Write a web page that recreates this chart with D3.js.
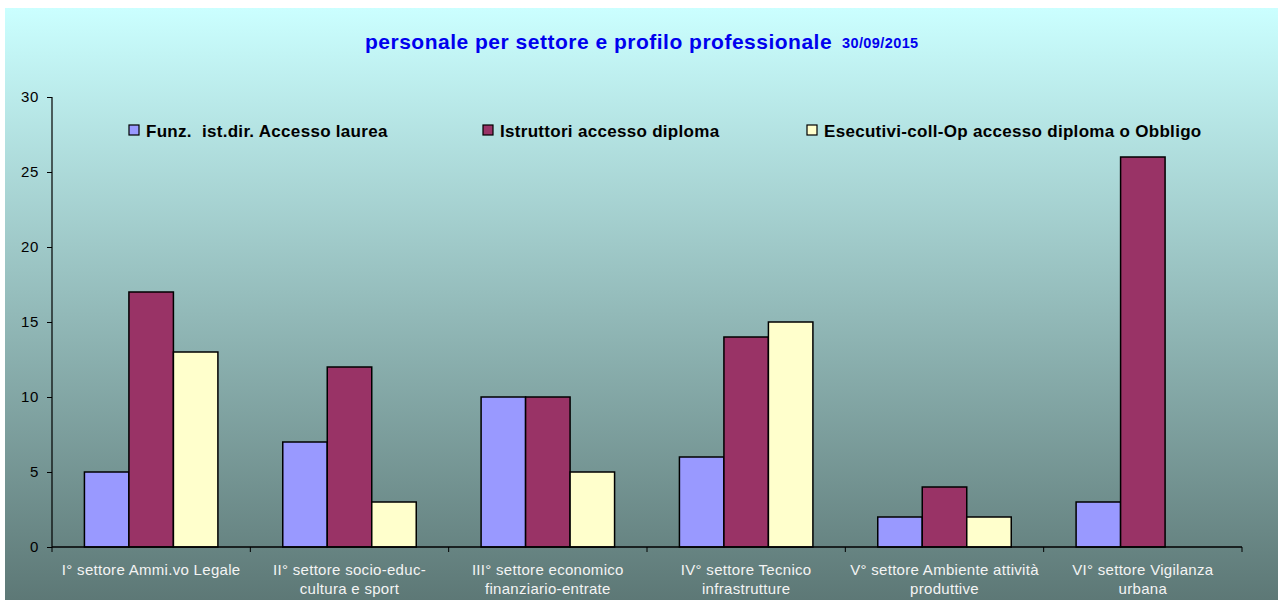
<!DOCTYPE html>
<html><head><meta charset="utf-8">
<script src="https://cdn.jsdelivr.net/npm/d3@7"></script>
<style>body{margin:0;background:#fff}svg{display:block}text{white-space:pre}</style>
</head><body>
<script>
const categories = [
  ["I° settore Ammi.vo Legale"],
  ["II° settore socio-educ-", "cultura e sport"],
  ["III° settore economico", "finanziario-entrate"],
  ["IV° settore Tecnico", "infrastrutture"],
  ["V° settore Ambiente attività", "produttive"],
  ["VI° settore Vigilanza", "urbana"]
];
const seriesNames = ["Funz.  ist.dir. Accesso laurea", "Istruttori accesso diploma", "Esecutivi-coll-Op accesso diploma o Obbligo"];
const funzValues = [5, 7, 10, 6, 2, 3];
const istrValues = [17, 12, 10, 14, 4, 26];
const esecValues = [13, 3, 5, 15, 2, null];
const yTicks = [0, 5, 10, 15, 20, 25, 30];
const colors = ["#9999ff", "#993366", "#ffffcc"];

const W = 1278, H = 602;
const svg = d3.select("body").append("svg").attr("width", W).attr("height", H);
const defs = svg.append("defs");
const grad = defs.append("linearGradient").attr("id", "bg").attr("x1", 0).attr("y1", 0).attr("x2", 0).attr("y2", 1);
grad.append("stop").attr("offset", "0%").attr("stop-color", "#cbffff");
grad.append("stop").attr("offset", "100%").attr("stop-color", "#5d7876");
svg.append("rect").attr("x", 5).attr("y", 8).attr("width", W - 5).attr("height", 592).attr("fill", "url(#bg)");

const font = "Liberation Sans, Arial, sans-serif";
const x0 = d3.scaleBand().domain(d3.range(categories.length)).range([52, 1242]).paddingInner(0.327).paddingOuter(0.1635);
const x1 = d3.scaleBand().domain([0, 1, 2]).range([0, x0.bandwidth()]);
const y = d3.scaleLinear().domain([0, 30]).range([547, 97]);

const series = [funzValues, istrValues, esecValues];
const g = svg.append("g");
series.forEach((vals, si) => {
  g.selectAll(null).data(vals.map((v, i) => ({v, i})).filter(d => d.v != null))
    .enter().append("rect")
    .attr("x", d => x0(d.i) + x1(si))
    .attr("y", d => y(d.v))
    .attr("width", x1.bandwidth())
    .attr("height", d => y(0) - y(d.v))
    .attr("fill", colors[si])
    .attr("stroke", "#000").attr("stroke-width", 1.5);
});

// y axis
const yAxis = svg.append("g").attr("transform", "translate(52,0)")
  .call(d3.axisLeft(y).tickValues(yTicks).tickSize(5).tickPadding(8));
yAxis.select(".domain").attr("stroke", "#000").attr("stroke-width", 1.2).attr("d", "M0,97V547");
yAxis.selectAll(".tick line").attr("stroke", "#000");
yAxis.selectAll("text").attr("font-family", font).attr("font-size", 15).attr("letter-spacing", 0.6).attr("fill", "#000");

// x axis
const step = (1242 - 52) / categories.length;
const xb = svg.append("g");
xb.append("line").attr("x1", 52).attr("x2", 1242).attr("y1", 547).attr("y2", 547).attr("stroke", "#000").attr("stroke-width", 1.3);
xb.selectAll(null).data(d3.range(categories.length + 1)).enter().append("line")
  .attr("x1", i => 52 + i * step).attr("x2", i => 52 + i * step)
  .attr("y1", 547).attr("y2", 552).attr("stroke", "#000");
categories.forEach((lines, i) => {
  const cx = 52 + (i + 0.5) * step;
  lines.forEach((t, li) => {
    xb.append("text").attr("x", cx).attr("y", 575 + li * 19)
      .attr("text-anchor", "middle").attr("font-family", font).attr("font-size", 15)
      .attr("letter-spacing", 0.3).attr("fill", "#f4f4f4").text(t);
  });
});

// title
const title = svg.append("text").attr("y", 49).attr("font-family", font).attr("font-weight", "bold").attr("fill", "#0000ee");
title.append("tspan").attr("x", 365).attr("font-size", 21).attr("letter-spacing", 0.5).text("personale per settore e profilo professionale");
title.append("tspan").attr("x", 842).attr("y", 48).attr("font-size", 14.5).attr("letter-spacing", 0.4).text("30/09/2015");

// legend
const legX = [129, 483, 807];
seriesNames.forEach((n, i) => {
  svg.append("rect").attr("x", legX[i]).attr("y", 125).attr("width", 10).attr("height", 10)
    .attr("fill", colors[i]).attr("stroke", "#000").attr("stroke-width", 1.2);
  svg.append("text").attr("x", legX[i] + 17).attr("y", 136.5).attr("font-family", font)
    .attr("font-size", 17).attr("letter-spacing", 0.3).attr("font-weight", "bold").attr("fill", "#000").text(n);
});
</script>
</body></html>
